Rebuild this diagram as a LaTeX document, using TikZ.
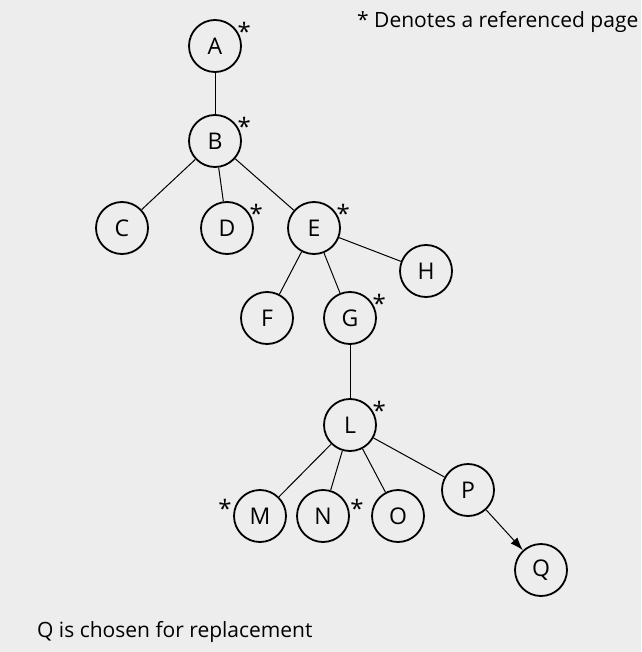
\documentclass[tikz,border=0pt]{standalone}
\usepackage{fontspec}
\setmainfont{Open Sans}
\usetikzlibrary{arrows.meta}
\definecolor{paper}{HTML}{EDEDED}
\begin{document}
\begin{tikzpicture}[x=1pt,y=-1pt,
    page/.style={draw,circle,line width=1.8pt,minimum size=52pt,inner sep=0pt,font=\fontsize{23}{23}\selectfont},
    ast/.style={font=\fontsize{24}{24}\selectfont,inner sep=0pt,anchor=center},
    seen/.style={label={[ast,label distance=6pt]27:*}},
    seenright/.style={label={[ast,label distance=8pt]13:*}},
    seenleft/.style={label={[ast,label distance=9pt]167:*}},
    edge/.style={line width=1pt},
    arr/.style={edge,-{Latex[length=13pt,width=9pt]}},
    note/.style={font=\fontsize{21}{21}\selectfont,anchor=base west,inner sep=0pt},
  ]
  \fill[paper] (0,0) rectangle (641,652);

  \node[page,seen] (A) at (215,46) {A};
  \node[page,seen] (B) at (215,141) {B};
  \node[page] (C) at (122,228) {C};
  \node[page,seen] (D) at (227,228) {D};
  \node[page,seen] (E) at (314,228) {E};
  \node[page] (H) at (426,271) {H};
  \node[page] (F) at (267,318) {F};
  \node[page,seen] (G) at (350,318) {G};
  \node[page,seen] (L) at (350,425) {L};
  \node[page,seenleft] (M) at (260,516) {M};
  \node[page,seenright] (N) at (323,516) {N};
  \node[page] (O) at (398,516) {O};
  \node[page] (P) at (468,490) {P};
  \node[page] (Q) at (541,570) {Q};

  \draw[edge] (A) -- (B);
  \draw[edge] (B) -- (C);
  \draw[edge] (B) -- (D);
  \draw[edge] (B) -- (E);
  \draw[edge] (E) -- (F);
  \draw[edge] (E) -- (G);
  \draw[edge] (E) -- (H);
  \draw[edge] (G) -- (L);
  \draw[edge] (L) -- (M);
  \draw[edge] (L) -- (N);
  \draw[edge] (L) -- (O);
  \draw[edge] (L) -- (P);
  \draw[arr] (P) -- (Q);

  \node[note] (key) at (357,28) {* Denotes a referenced page};
  \node[note] (pick) at (37,637) {Q is chosen for replacement};
\end{tikzpicture}
\end{document}
